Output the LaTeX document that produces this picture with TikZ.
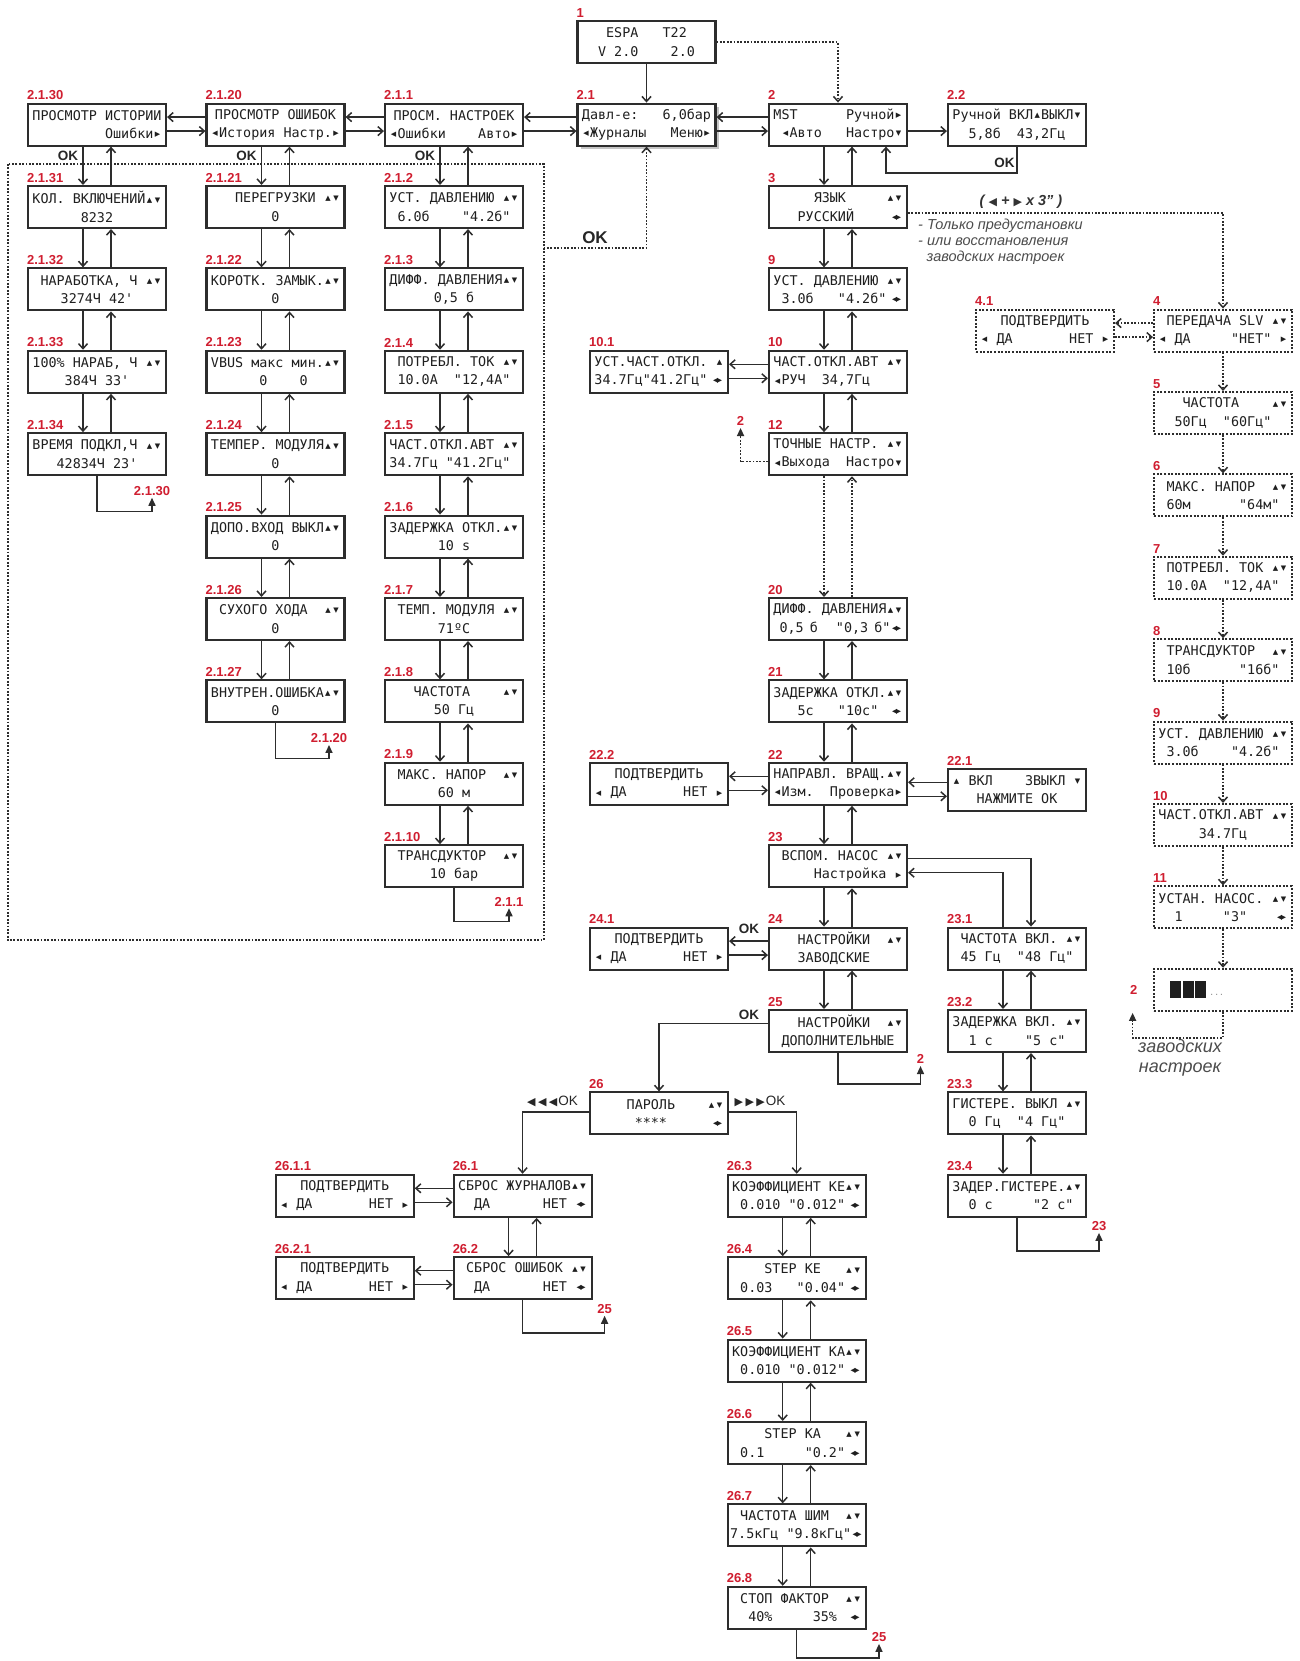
\documentclass[tikz,border=0pt]{standalone}
\usepackage{fontspec}
\setmainfont{Liberation Sans}
\newfontfamily\lcdfont{DejaVu Sans Mono}
\newfontfamily\symf{DejaVu Sans}
\usetikzlibrary{arrows.meta,shadows}
\definecolor{lblred}{RGB}{208,30,48}
\definecolor{lnc}{RGB}{45,45,45}
\newlength\mw
\setlength\mw{8.07pt}
\newcommand\lcd[1]{\hbox to 16\mw{#1}}
\newcommand\lcdsym[1]{\makebox[\mw]{\raisebox{1.8pt}{\symf\fontsize{7}{7}\selectfont #1}}}
\newcommand\lcdL{\lcdsym{◀}}
\newcommand\lcdR{\lcdsym{▶}}
\newcommand\lcdU{\lcdsym{▲}}
\newcommand\lcdD{\lcdsym{▼}}
\newcommand\lcdUD{\lcdU\lcdD}
\newcommand\lcdLR{\makebox[1.5\mw]{\raisebox{2pt}{\symf\fontsize{6.5}{6.5}\selectfont ◀\kern-1pt▶}}}
\newcommand\tri[1]{{\symf\fontsize{11}{11}\selectfont #1}}
\tikzset{
  box/.style={draw=lnc, line width=2.1pt, fill=white, minimum width=138pt, minimum height=42pt, inner sep=0pt, align=center, text=black!88, font=\lcdfont\fontsize{13.4}{18.3}\selectfont},
  dbox/.style={box, dash pattern=on 2pt off 1.6pt},
  lb/.style={label={[lbl,anchor=south west,yshift=2.5pt]north west:#1}},
  lbl/.style={text=lblred, font=\bfseries\fontsize{13}{13}\selectfont, inner sep=0pt},
  arr/.style={draw=lnc, line width=1.5pt, -{Straight Barb[length=5pt,width=9pt]}},
  darr/.style={arr, dash pattern=on 1.8pt off 1.6pt},
  tarr/.style={draw=lnc, line width=1.5pt, -{Triangle[length=8pt,width=7pt]}},
  dtarr/.style={tarr, dash pattern=on 1.8pt off 1.6pt},
  frame/.style={draw=lnc, line width=2pt, dash pattern=on 1.8pt off 1.6pt},
  okl/.style={font=\bfseries\fontsize{13.5}{13.5}\selectfont, inner sep=0pt, text=black!85},
  note/.style={font=\itshape\fontsize{14.5}{15}\selectfont, inner sep=0pt, text=black!70, anchor=west},
}
\newcommand\vpr[3][]{%
  \draw[arr,#1] ([xshift=-14pt]#2.south) -- ([xshift=-14pt]#3.north);
  \draw[arr,#1] ([xshift=14pt]#3.north) -- ([xshift=14pt]#2.south);}
\newcommand\hpr[3][]{%
  \coordinate (hpA) at ([yshift=7.5pt]#3.west);
  \coordinate (hpB) at ([yshift=-6.5pt]#3.west);
  \draw[arr,#1] (hpA) -- (hpA -| #2.east);
  \draw[arr,#1] (hpB -| #2.east) -- (hpB);}
\newcommand\loopto[5]{%
  \draw[tarr] (#1.south) -- ++(0,#2) -| ++(#3,-#4) node[lbl,anchor=south,yshift=1.5pt]{#5};}
\begin{document}
\begin{tikzpicture}[x=1pt,y=-1pt]
\fill[white] (0,0) rectangle (1299,1661);
\useasboundingbox (0,0) rectangle (1299,1661);
\draw[frame] (7.5,164) rectangle (543.6,940);
% ---------- top ----------
\node[box,lb=1] (b1) at (646.5,42.2) {\lcd{~~~ESPA~~~T22\hfill}\\\lcd{~~V~2.0~~~~2.0\hfill}};
\node[box,lb=2.1,drop shadow={shadow xshift=3.5pt,shadow yshift=-3.5pt,fill=black!45}] (b2p1) at (646.5,124.6) {\lcd{Давл-е:~~~6,0бар}\\\lcd{\lcdL Журналы\hfill Меню\lcdR}};
\node[box,lb=2] (b2) at (838,124.6) {\lcd{MST\hfill Ручной\lcdR}\\\lcd{~\lcdL Авто\hfill Настро\lcdD}};
\node[box,lb=2.2] (b2p2) at (1017,124.6) {\lcd{Ручной~ВКЛ\lcdU ВЫКЛ\lcdD}\\\lcd{~~5,8б~~43,2Гц\hfill}};
\node[box,lb=2.1.1] (b2p1p1) at (454,124.6) {\lcd{\hfil ПРОСМ.~НАСТРОЕК\hfil}\\\lcd{\lcdL Ошибки\hfill Авто\lcdR}};
\node[box,lb=2.1.20] (b2p1p20) at (275.5,124.6) {\lcd{\hfil ПРОСМОТР~ОШИБОК\hfil}\\\lcd{\lcdL История~Настр.\lcdR}};
\node[box,lb=2.1.30] (b2p1p30) at (97,124.6) {\lcd{ПРОСМОТР~ИСТОРИИ}\\\lcd{\hfill Ошибки\lcdR}};
% ---------- column A ----------
\node[box,lb=2.1.31] (b2p1p31) at (97,207) {\lcd{КОЛ.~ВКЛЮЧЕНИЙ\lcdUD}\\\lcd{\hfil 8232\hfil}};
\node[box,lb=2.1.32] (b2p1p32) at (97,289.4) {\lcd{~НАРАБОТКА,~Ч~\lcdUD}\\\lcd{\hfil 3274Ч~42'\hfil}};
\node[box,lb=2.1.33] (b2p1p33) at (97,371.8) {\lcd{100\%~НАРАБ,~Ч~\lcdUD}\\\lcd{\hfil 384Ч~33'\hfil}};
\node[box,lb=2.1.34] (b2p1p34) at (97,454.2) {\lcd{ВРЕМЯ~ПОДКЛ,Ч~\lcdUD}\\\lcd{\hfil 42834Ч~23'\hfil}};
% ---------- column B ----------
\node[box,lb=2.1.21] (b2p1p21) at (275.5,207) {\lcd{~~~ПЕРЕГРУЗКИ\hfill\lcdUD}\\\lcd{\hfil 0\hfil}};
\node[box,lb=2.1.22] (b2p1p22) at (275.5,289.4) {\lcd{КОРОТК.~ЗАМЫК.\lcdUD}\\\lcd{\hfil 0\hfil}};
\node[box,lb=2.1.23] (b2p1p23) at (275.5,371.8) {\lcd{VBUS~макс~мин.\lcdUD}\\\lcd{~~~~~~0~~~~0\hfill}};
\node[box,lb=2.1.24] (b2p1p24) at (275.5,454.2) {\lcd{ТЕМПЕР.~МОДУЛЯ\lcdUD}\\\lcd{\hfil 0\hfil}};
\node[box,lb=2.1.25] (b2p1p25) at (275.5,536.6) {\lcd{ДОПО.ВХОД~ВЫКЛ\lcdUD}\\\lcd{\hfil 0\hfil}};
\node[box,lb=2.1.26] (b2p1p26) at (275.5,619) {\lcd{~СУХОГО~ХОДА\hfill\lcdUD}\\\lcd{\hfil 0\hfil}};
\node[box,lb=2.1.27] (b2p1p27) at (275.5,701.4) {\lcd{ВНУТРЕН.ОШИБКА\lcdUD}\\\lcd{\hfil 0\hfil}};
% ---------- column C ----------
\node[box,lb=2.1.2] (b2p1p2) at (454,207) {\lcd{УСТ.~ДАВЛЕНИЮ~\lcdUD}\\\lcd{~6.0б\hfill"4.2б"~}};
\node[box,lb=2.1.3] (b2p1p3) at (454,289.4) {\lcd{ДИФФ.~ДАВЛЕНИЯ\lcdUD}\\\lcd{\hfil 0,5~б\hfil}};
\node[box,lb=2.1.4] (b2p1p4) at (454,371.8) {\lcd{~ПОТРЕБЛ.~ТОК~\lcdUD}\\\lcd{~10.0А~~"12,4А"\hfill}};
\node[box,lb=2.1.5] (b2p1p5) at (454,454.2) {\lcd{ЧАСТ.ОТКЛ.АВТ~\lcdUD}\\\lcd{34.7Гц~"41.2Гц"\hfill}};
\node[box,lb=2.1.6] (b2p1p6) at (454,536.6) {\lcd{ЗАДЕРЖКА~ОТКЛ.\lcdUD}\\\lcd{\hfil 10~s\hfil}};
\node[box,lb=2.1.7] (b2p1p7) at (454,619) {\lcd{~ТЕМП.~МОДУЛЯ~\lcdUD}\\\lcd{\hfil 71ºC\hfil}};
\node[box,lb=2.1.8] (b2p1p8) at (454,701.4) {\lcd{~~~ЧАСТОТА\hfill\lcdUD}\\\lcd{\hfil 50~Гц\hfil}};
\node[box,lb=2.1.9] (b2p1p9) at (454,783.8) {\lcd{~МАКС.~НАПОР\hfill\lcdUD}\\\lcd{\hfil 60~м\hfil}};
\node[box,lb=2.1.10] (b2p1p10) at (454,866.2) {\lcd{~ТРАНСДУКТОР\hfill\lcdUD}\\\lcd{\hfil 10~бар\hfil}};
% ---------- column E ----------
\node[box,lb=3] (b3) at (838,207) {\lcd{~~~~~ЯЗЫК\hfill\lcdUD}\\\lcd{~~~РУССКИЙ\hfill\lcdLR}};
\node[box,lb=9] (b9) at (838,289.4) {\lcd{УСТ.~ДАВЛЕНИЮ~\lcdUD}\\\lcd{~3.0б~~~"4.2б"\hfill\lcdLR}};
\node[box,lb=10] (b10) at (838,371.8) {\lcd{ЧАСТ.ОТКЛ.АВТ~\lcdUD}\\\lcd{\lcdL РУЧ~~34,7Гц\hfill}};
\node[box,lb=12] (b12) at (838,454.2) {\lcd{ТОЧНЫЕ~НАСТР.~\lcdUD}\\\lcd{\lcdL Выхода~~Настро\lcdD}};
\node[box,lb=20] (b20) at (838,619) {\lcd{ДИФФ.~ДАВЛЕНИЯ\lcdUD}\\\lcd{~0,5~б~~~"0,3~б"\hfill\lcdLR}};
\node[box,lb=21] (b21) at (838,701.4) {\lcd{ЗАДЕРЖКА~ОТКЛ.\lcdUD}\\\lcd{~~~5с~~~"10с"\hfill\lcdLR}};
\node[box,lb=22] (b22) at (838,783.8) {\lcd{НАПРАВЛ.~ВРАЩ.\lcdUD}\\\lcd{\lcdL Изм.~~Проверка\lcdR}};
\node[box,lb=23] (b23) at (838,866.2) {\lcd{~ВСПОМ.~НАСОС~\lcdUD}\\\lcd{\hfill Настройка~\lcdR}};
\node[box,lb=24] (b24) at (838,948.6) {\lcd{~~~НАСТРОЙКИ\hfill\lcdUD}\\\lcd{~~~ЗАВОДСКИЕ\hfill}};
\node[box,lb=25] (b25) at (838,1031) {\lcd{~~~НАСТРОЙКИ\hfill\lcdUD}\\\lcd{\hfil ДОПОЛНИТЕЛЬНЫЕ\hfil}};
% ---------- side boxes ----------
\node[box,lb=10.1] (b10p1) at (659,371.8) {\lcd{УСТ.ЧАСТ.ОТКЛ.~\lcdU}\\\lcd{34.7Гц"41.2Гц"\hfill\lcdLR}};
\node[box,lb=22.2] (b22p2) at (659,783.8) {\lcd{\hfil ПОДТВЕРДИТЬ\hfil}\\\lcd{\lcdL~ДА\hfill НЕТ~\lcdR}};
\node[box,lb=22.1] (b22p1) at (1017,789.8) {\lcd{\lcdU~ВКЛ\hfill ЗВЫКЛ~\lcdD}\\\lcd{\hfil НАЖМИТЕ~ОК\hfil}};
\node[box,lb=24.1] (b24p1) at (659,948.6) {\lcd{\hfil ПОДТВЕРДИТЬ\hfil}\\\lcd{\lcdL~ДА\hfill НЕТ~\lcdR}};
\node[box,lb=23.1] (b23p1) at (1017,948.6) {\lcd{~ЧАСТОТА~ВКЛ.~\lcdUD}\\\lcd{~45~Гц~~"48~Гц"\hfill}};
\node[box,lb=23.2] (b23p2) at (1017,1031) {\lcd{ЗАДЕРЖКА~ВКЛ.~\lcdUD}\\\lcd{~~1~с~~~~"5~с"\hfill}};
\node[box,lb=23.3] (b23p3) at (1017,1113.4) {\lcd{ГИСТЕРЕ.~ВЫКЛ~\lcdUD}\\\lcd{~~0~Гц~~"4~Гц"\hfill}};
\node[box,lb=23.4] (b23p4) at (1017,1195.8) {\lcd{ЗАДЕР.ГИСТЕРЕ.\lcdUD}\\\lcd{~~0~с~~~~~"2~с"\hfill}};
% ---------- password ----------
\node[box,lb=26] (b26) at (659,1113.4) {\lcd{~~~~ПАРОЛЬ\hfill\lcdUD}\\\lcd{~~~~~****\hfill\lcdLR}};
\node[box,lb=26.1] (b26p1) at (522.6,1195.8) {\lcd{СБРОС~ЖУРНАЛОВ\lcdUD}\\\lcd{~~ДА\hfill НЕТ~\lcdLR}};
\node[box,lb=26.2] (b26p2) at (522.6,1278.2) {\lcd{~СБРОС~ОШИБОК~\lcdUD}\\\lcd{~~ДА\hfill НЕТ~\lcdLR}};
\node[box,lb=26.1.1] (b26p1p1) at (344.7,1195.8) {\lcd{\hfil ПОДТВЕРДИТЬ\hfil}\\\lcd{\lcdL~ДА\hfill НЕТ~\lcdR}};
\node[box,lb=26.2.1] (b26p2p1) at (344.7,1278.2) {\lcd{\hfil ПОДТВЕРДИТЬ\hfil}\\\lcd{\lcdL~ДА\hfill НЕТ~\lcdR}};
\node[box,lb=26.3] (b26p3) at (796.7,1195.8) {\lcd{КОЭФФИЦИЕНТ~КЕ\lcdUD}\\\lcd{~0.010~"0.012"\hfill\lcdLR}};
\node[box,lb=26.4] (b26p4) at (796.7,1278.2) {\lcd{~~~~STEP~КЕ\hfill\lcdUD}\\\lcd{~0.03~~~"0.04"\hfill\lcdLR}};
\node[box,lb=26.5] (b26p5) at (796.7,1360.6) {\lcd{КОЭФФИЦИЕНТ~КА\lcdUD}\\\lcd{~0.010~"0.012"\hfill\lcdLR}};
\node[box,lb=26.6] (b26p6) at (796.7,1443) {\lcd{~~~~STEP~КА\hfill\lcdUD}\\\lcd{~0.1~~~~~"0.2"\hfill\lcdLR}};
\node[box,lb=26.7] (b26p7) at (796.7,1525.4) {\lcd{~ЧАСТОТА~ШИМ\hfill\lcdUD}\\\lcd{\hss 7.5кГц~"9.8кГц"\lcdLR\hss}};
\node[box,lb=26.8] (b26p8) at (796.7,1607.8) {\lcd{~СТОП~ФАКТОР\hfill\lcdUD}\\\lcd{~~40\%~~~~~35\%~\hfill\lcdLR}};
% ---------- right dotted column ----------
\node[dbox,lb=4.1] (b4p1) at (1045,330.6) {\lcd{\hfil ПОДТВЕРДИТЬ\hfil}\\\lcd{\lcdL~ДА\hfill НЕТ~\lcdR}};
\node[dbox,lb=4] (r4) at (1223,330.6) {\lcd{~ПЕРЕДАЧА~SLV~\lcdUD}\\\lcd{\lcdL~ДА\hfill"НЕТ"~\lcdR}};
\node[dbox,lb=5] (r5) at (1223,413) {\lcd{~~~ЧАСТОТА\hfill\lcdUD}\\\lcd{~~50Гц~~"60Гц"\hfill}};
\node[dbox,lb=6] (r6) at (1223,495.4) {\lcd{~МАКС.~НАПОР\hfill\lcdUD}\\\lcd{~60м\hfill"64м"~}};
\node[dbox,lb=7] (r7) at (1223,577.8) {\lcd{~ПОТРЕБЛ.~ТОК~\lcdUD}\\\lcd{~10.0А~~"12,4А"\hfill}};
\node[dbox,lb=8] (r8) at (1223,660.2) {\lcd{~ТРАНСДУКТОР\hfill\lcdUD}\\\lcd{~10б\hfill"16б"~}};
\node[dbox,lb=9] (r9) at (1223,742.6) {\lcd{УСТ.~ДАВЛЕНИЮ~\lcdUD}\\\lcd{~3.0б\hfill"4.2б"~}};
\node[dbox,lb=10] (r10) at (1223,825) {\lcd{ЧАСТ.ОТКЛ.АВТ~\lcdUD}\\\lcd{\hfil 34.7Гц\hfil}};
\node[dbox,lb=11] (r11) at (1223,907.4) {\lcd{УСТАН.~НАСОС.~\lcdUD}\\\lcd{~~1~~~~~"3"\hfill\lcdLR}};
\node[dbox] (rbar) at (1223,989.8) {\hbox to 16\mw{\kern12pt\rule[-3pt]{11pt}{17pt}\kern1.5pt\rule[-3pt]{11pt}{17pt}\kern1.5pt\rule[-3pt]{11pt}{17pt}\kern3pt{\color{black!45}\fontsize{8}{8}\selectfont...}\hfill}};
% ---------- texts ----------
\node[okl] (ok1) at (68,156) {OK};
\node[okl] (ok2) at (246.5,156) {OK};
\node[okl] (ok3) at (425,156) {OK};
\node[okl,font=\bfseries\fontsize{17}{17}\selectfont] (ok4) at (595,238) {OK};
\node[okl] (ok5) at (1004.5,163) {OK};
\node[okl] (ok6) at (749,929) {OK};
\node[okl] (ok7) at (749,1015) {OK};
\node[font=\bfseries\itshape\fontsize{14.5}{15}\selectfont, text=black!80, inner sep=0pt] (keys) at (1021,201.7) {( {\symf\upshape\fontsize{11}{11}\selectfont◀} + {\symf\upshape\fontsize{11}{11}\selectfont▶} x 3" )};
\node[note] (nt1) at (918,225.7) {- Только предустановки};
\node[note] (nt2) at (918,241.7) {- или восстановления};
\node[note] (nt3) at (926.5,257.7) {заводских настроек};
\node[font=\itshape\fontsize{18}{20}\selectfont, text=black!70, align=center, inner sep=0pt] (zn) at (1180,1058) {заводских\\настроек};
\node[inner sep=0pt, text=black!85, font=\fontsize{13.5}{13.5}\selectfont] (pl) at (552.5,1101.7) {\tri{◀}\kern2.5pt\tri{◀}\kern2.5pt\tri{◀}\kern1pt OK};
\node[inner sep=0pt, text=black!85, font=\fontsize{13.5}{13.5}\selectfont] (pr) at (760,1101.7) {\tri{▶}\kern2.5pt\tri{▶}\kern2.5pt\tri{▶}\kern1pt OK};
\node[lbl] (lbar) at (1133.6,990) {2};
% ---------- connectors: top ----------
\draw[arr] (b1.south) -- (b2p1.north);
\draw[darr] (b1.east) -| (b2.north);
\hpr{b2p1p30}{b2p1p20}
\hpr{b2p1p20}{b2p1p1}
\hpr{b2p1p1}{b2p1}
\hpr{b2p1}{b2}
\coordinate (c22) at ([yshift=-6.5pt]b2p2.west);
\draw[arr] (c22 -| b2.east) -- (c22);
\draw[arr] (b2p2.south) -- ++(0,26.5) -| ([xshift=48pt]b2.south);
\coordinate (okc) at (543.6,248);
\draw[darr] (okc) -| (b2p1.south);
% columns A B C
\vpr{b2p1p30}{b2p1p31}
\vpr{b2p1p31}{b2p1p32}
\vpr{b2p1p32}{b2p1p33}
\vpr{b2p1p33}{b2p1p34}
\vpr{b2p1p20}{b2p1p21}
\vpr{b2p1p21}{b2p1p22}
\vpr{b2p1p22}{b2p1p23}
\vpr{b2p1p23}{b2p1p24}
\vpr{b2p1p24}{b2p1p25}
\vpr{b2p1p25}{b2p1p26}
\vpr{b2p1p26}{b2p1p27}
\vpr{b2p1p1}{b2p1p2}
\vpr{b2p1p2}{b2p1p3}
\vpr{b2p1p3}{b2p1p4}
\vpr{b2p1p4}{b2p1p5}
\vpr{b2p1p5}{b2p1p6}
\vpr{b2p1p6}{b2p1p7}
\vpr{b2p1p7}{b2p1p8}
\vpr{b2p1p8}{b2p1p9}
\vpr{b2p1p9}{b2p1p10}
\loopto{b2p1p34}{35}{55}{13.5}{2.1.30}
\loopto{b2p1p27}{35}{53.5}{13.5}{2.1.20}
\loopto{b2p1p10}{33}{55}{13}{2.1.1}
% column E
\vpr{b2}{b3}
\vpr{b3}{b9}
\vpr{b9}{b10}
\vpr{b10}{b12}
\vpr[darr]{b12}{b20}
\vpr{b20}{b21}
\vpr{b21}{b22}
\vpr{b22}{b23}
\vpr{b23}{b24}
\vpr{b24}{b25}
\hpr{b10p1}{b10}
\draw[dtarr] ([yshift=-7.5pt]b12.west) -| ++(-27.4,-33.7) node[lbl,anchor=south,yshift=2pt]{2};
\hpr{b22p2}{b22}
\hpr{b22}{b22p1}
\hpr{b24p1}{b24}
\draw[arr] ([yshift=7.5pt]b23.east) -| ([xshift=14pt]b23p1.north);
\draw[arr] ([xshift=-14pt]b23p1.north) |- ([yshift=-6.5pt]b23.east);
\vpr{b23p1}{b23p2}
\vpr{b23p2}{b23p3}
\vpr{b23p3}{b23p4}
\loopto{b23p4}{33}{82}{18}{23}
\loopto{b25}{31}{82.5}{18}{2}
\draw[arr] ([yshift=7.5pt]b25.west) -| (b26.north);
% password
\draw[arr] ([yshift=1.5pt]b26.west) -| (b26p1.north);
\draw[arr] ([yshift=1.5pt]b26.east) -| (b26p3.north);
\hpr{b26p1p1}{b26p1}
\hpr{b26p2p1}{b26p2}
\vpr{b26p1}{b26p2}
\loopto{b26p2}{32.5}{82}{17}{25}
\vpr{b26p3}{b26p4}
\vpr{b26p4}{b26p5}
\vpr{b26p5}{b26p6}
\vpr{b26p6}{b26p7}
\vpr{b26p7}{b26p8}
\loopto{b26p8}{28}{82.3}{14}{25}
% right dotted column
\draw[darr] ([yshift=-6pt]b3.east) -| (r4.north);
\hpr[darr]{b4p1}{r4}
\draw[darr] (r4.south) -- (r5.north);
\draw[darr] (r5.south) -- (r6.north);
\draw[darr] (r6.south) -- (r7.north);
\draw[darr] (r7.south) -- (r8.north);
\draw[darr] (r8.south) -- (r9.north);
\draw[darr] (r9.south) -- (r10.north);
\draw[darr] (r10.south) -- (r11.north);
\draw[darr] (r11.south) -- (rbar.north);
\draw[dtarr] (rbar.south) -- ++(0,26) -| ++(-90.4,-25);
\end{tikzpicture}
\end{document}
